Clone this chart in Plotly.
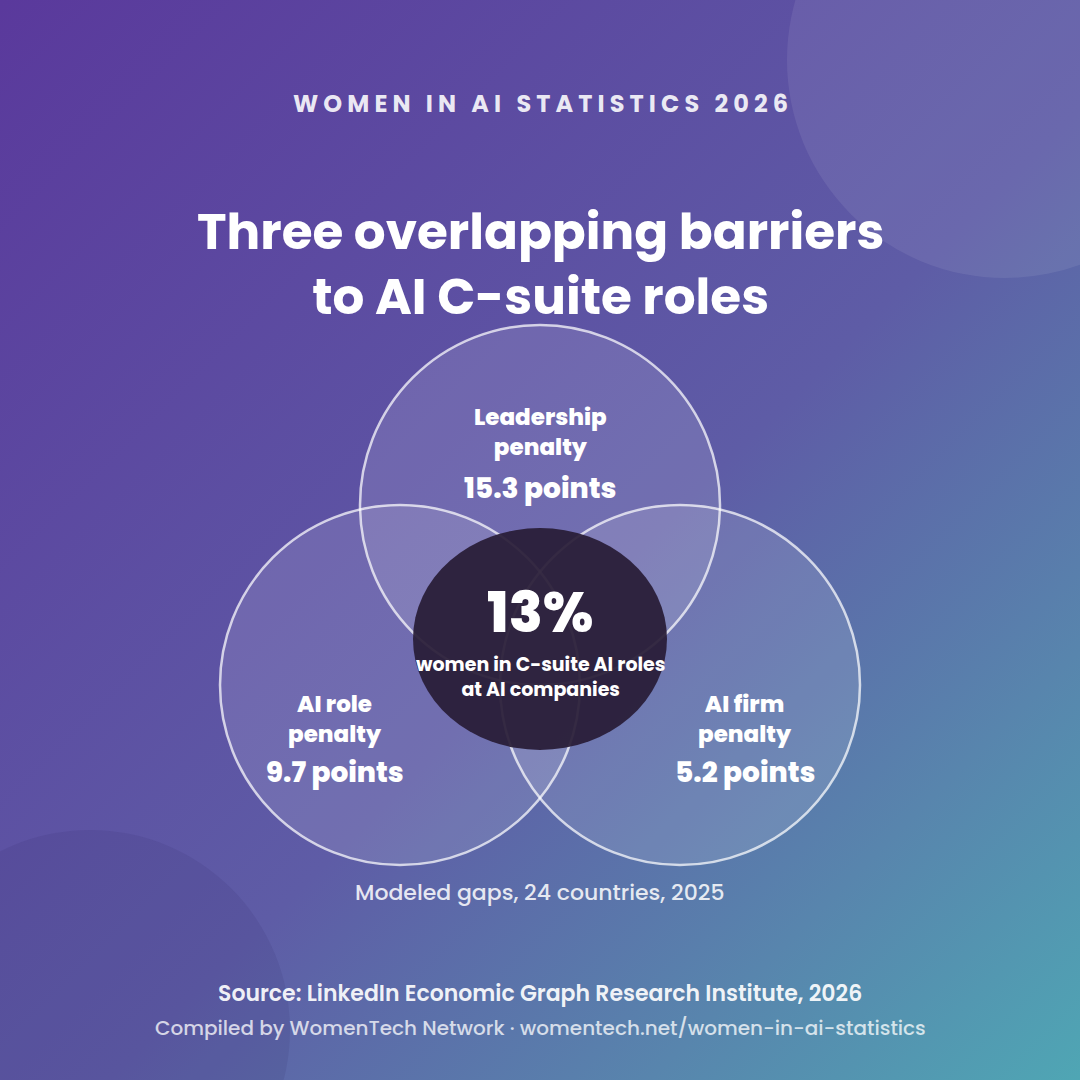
import base64
import plotly.graph_objects as go

# Chart values
barriers = ["Leadership<br>penalty", "AI role<br>penalty", "AI firm<br>penalty"]
penalty_points = [15.3, 9.7, 5.2]
centre_share = 13
centre_label = "women in C-suite AI roles<br>at AI companies"
kicker = "WOMEN IN AI STATISTICS 2026"
title = "Three overlapping barriers<br>to AI C-suite roles"
note = "Modeled gaps, 24 countries, 2025"
source = "Source: LinkedIn Economic Graph Research Institute, 2026"
credit = "Compiled by WomenTech Network · womentech.net/women-in-ai-statistics"

FONT = "Poppins, Inter, sans-serif"
W = H = 1080

# Venn layout (pixel coordinates, y grows downward)
R = 180
centres = [(540, 505), (400, 685), (680, 685)]
label_pos = [(540, 432, 488), (335, 719, 772), (745, 719, 772)]


def spaced(s):
    # fake letter-spacing for the kicker line
    words = [" ".join(w) for w in s.split(" ")]
    return "\u00a0\u00a0\u00a0".join(words)


# Background gradient as an svg image
svg = f"""<svg xmlns='http://www.w3.org/2000/svg' width='{W}' height='{H}'>
<defs><linearGradient id='g' x1='0' y1='0' x2='1' y2='1'>
<stop offset='0' stop-color='#5a399c'/>
<stop offset='0.55' stop-color='#5e5ca6'/>
<stop offset='0.8' stop-color='#5885ad'/>
<stop offset='1' stop-color='#4fa6b4'/>
</linearGradient></defs>
<rect width='{W}' height='{H}' fill='url(#g)'/></svg>"""
bg_src = "data:image/svg+xml;base64," + base64.b64encode(svg.encode()).decode()

fig = go.Figure()
fig.add_trace(go.Scatter(x=[0, W], y=[0, H], mode="markers",
                         marker=dict(opacity=0), hoverinfo="skip", showlegend=False))

shapes = []
# decorative blobs
shapes.append(dict(type="circle", x0=1005 - 218, x1=1005 + 218, y0=60 - 218, y1=60 + 218,
                   fillcolor="rgba(255,255,255,0.08)", line=dict(width=0), layer="below"))
shapes.append(dict(type="circle", x0=90 - 200, x1=90 + 200, y0=1030 - 200, y1=1030 + 200,
                   fillcolor="rgba(40,25,90,0.10)", line=dict(width=0), layer="below"))
# venn circles
for cx, cy in centres:
    shapes.append(dict(type="circle", x0=cx - R, x1=cx + R, y0=cy - R, y1=cy + R,
                       fillcolor="rgba(255,255,255,0.12)",
                       line=dict(color="rgba(255,255,255,0.72)", width=2.5)))
# dark centre
shapes.append(dict(type="circle", x0=540 - 127, x1=540 + 127, y0=639 - 111, y1=639 + 111,
                   fillcolor="rgba(40,28,54,0.93)", line=dict(width=0)))

ann = []
def txt(x, y, text, size, color="white", weight=700):
    ann.append(dict(x=x, y=y, xref="x", yref="y", text=text, showarrow=False,
                    xanchor="center", yanchor="middle",
                    font=dict(family=FONT, size=size, color=color, weight=weight)))

txt(540, 103, spaced(kicker), 24, "rgba(255,255,255,0.88)")
txt(540, 264, title, 50)

for name, pts, (x, y_name, y_pts) in zip(barriers, penalty_points, label_pos):
    txt(x, y_name, name, 23, weight=800)
    txt(x, y_pts, f"{pts} points", 28, weight=800)

txt(540, 612, f"{centre_share}%", 56, weight=800)
txt(540, 677, centre_label, 19, weight=700)

txt(540, 892, note, 22, "rgba(255,255,255,0.85)", 500)
txt(540, 993, source, 22, "rgba(255,255,255,0.92)", 600)
txt(540, 1028, credit, 20, "rgba(255,255,255,0.75)", 500)

fig.update_layout(
    width=W, height=H, margin=dict(l=0, r=0, t=0, b=0),
    paper_bgcolor="#5d5aa6", plot_bgcolor="rgba(0,0,0,0)",
    xaxis=dict(range=[0, W], visible=False, fixedrange=True),
    yaxis=dict(range=[H, 0], visible=False, fixedrange=True),
    shapes=shapes, annotations=ann, showlegend=False,
    images=[dict(source=bg_src, xref="paper", yref="paper", x=0, y=1,
                 sizex=1, sizey=1, sizing="stretch", layer="below")],
)

fig.write_html("out.html", config={"displayModeBar": False},
               post_script="document.body.style.margin='0';document.body.style.overflow='hidden';")
